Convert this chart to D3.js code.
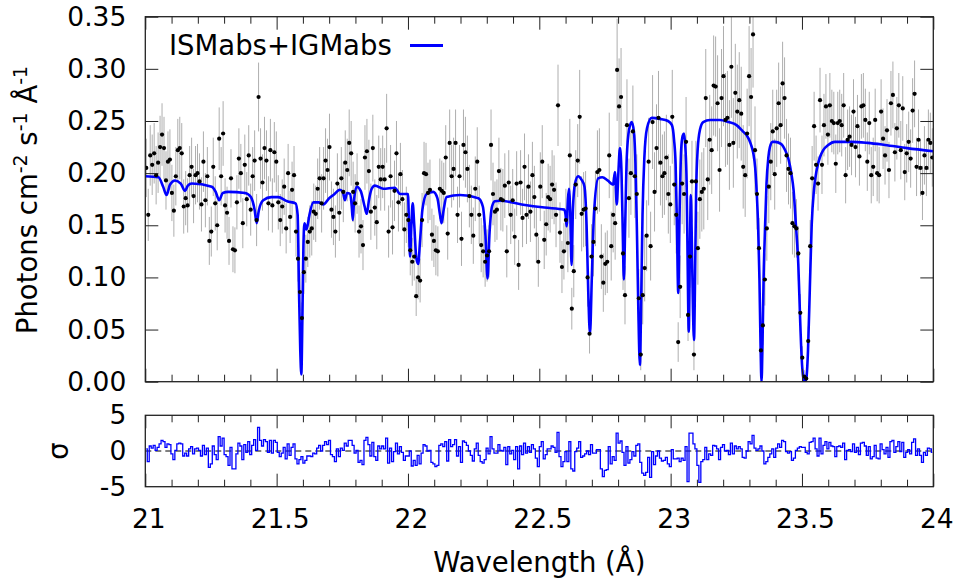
<!DOCTYPE html>
<html><head><meta charset="utf-8">
<script src="https://cdn.jsdelivr.net/npm/d3@7"></script>
<style>
html,body{margin:0;padding:0;background:#fff;}
svg{display:block;font-family:"DejaVu Sans",sans-serif;}
</style></head><body>
<svg id="chart" width="957" height="584"></svg>
<script>
// ---------------- DATA ----------------
// spectral bins: first bin centre and bin width (Angstrom)
const binStart = 21.00375;
const binWidth = 0.0075;

// observed flux, units of 1e-3 photons cm^-2 s^-1 A^-1
const fluxMilli = [
205,160,217,208,219,198,210,225,237,224,
193,211,213,181,164,197,222,224,219,168,
176,169,198,206,178,198,200,192,170,211,
174,197,135,144,206,171,150,233,197,238,
169,162,135,195,127,126,172,214,200,152,
208,175,217,165,197,212,155,273,214,191,
224,212,171,222,169,220,211,172,155,168,
187,147,200,158,184,198,144,118,86,61,
105,118,134,144,147,163,161,185,195,171,
195,212,203,225,165,158,144,190,162,195,
182,210,203,229,219,182,171,190,144,149,
131,215,221,202,163,224,167,153,206,194,
206,194,243,144,197,148,183,219,172,199,
175,146,160,155,126,115,120,82,100,97,
155,200,199,181,184,141,135,126,125,185,
183,181,215,142,229,197,204,229,160,197,
137,227,220,204,178,160,140,185,211,160,
131,125,115,121,125,227,180,163,165,202,
175,174,188,125,191,160,174,139,190,112,
191,157,206,160,187,163,198,177,141,115,
187,211,136,151,177,175,189,184,160,265,
143,110,125,155,133,217,70,106,189,212,
254,161,165,166,100,46,120,134,166,201,
203,120,95,113,115,217,130,160,152,299,
264,273,123,83,246,176,200,240,197,180,
80,26,83,109,140,211,130,249,182,224,
253,210,197,200,215,180,170,254,189,160,
38,91,190,180,230,64,120,192,26,192,
128,175,182,185,272,194,232,222,284,283,
267,203,272,293,251,253,227,302,229,277,
259,270,257,206,198,238,293,273,333,222,
180,128,30,54,98,147,187,211,240,199,
243,267,246,286,272,217,204,200,152,149,
147,123,66,23,5,3,39,130,195,245,
208,190,270,208,246,264,237,265,250,248,
209,248,250,246,265,198,232,235,227,259,
225,245,216,264,265,251,211,248,198,206,
251,200,198,259,233,217,241,203,267,275,
220,243,265,222,262,201,219,230,214,260,
276,206,232,205,181,217,205,232,229,215];

// 1-sigma flux errors, same units
const errMilli = [
28,25,29,29,29,28,29,30,30,30,
28,29,29,27,25,28,30,30,29,26,
26,26,28,28,26,28,28,27,26,29,
26,28,23,24,28,26,24,30,28,31,
26,25,23,28,22,22,26,29,28,24,
29,26,29,25,28,29,25,33,29,27,
30,29,26,30,26,29,29,26,25,26,
27,24,28,25,27,28,24,22,18,15,
21,23,24,25,26,27,27,29,30,28,
30,31,30,32,27,27,25,29,27,30,
29,31,30,32,31,29,28,29,25,26,
24,31,31,30,27,32,27,26,30,30,
30,30,33,25,30,26,29,31,28,30,
28,26,27,26,24,23,23,19,21,21,
26,30,30,29,29,25,25,24,24,29,
29,29,31,25,32,30,30,32,27,30,
26,34,34,32,30,28,27,31,33,28,
26,25,24,25,25,34,30,29,29,32,
30,30,31,25,31,28,30,27,31,24,
31,28,32,28,31,29,32,30,27,24,
33,35,28,30,32,32,33,33,31,39,
29,25,27,30,28,35,20,25,33,35,
45,36,36,36,28,19,31,33,36,40,
40,31,28,30,30,41,33,36,35,49,
46,47,35,28,44,38,40,44,40,38,
28,15,28,32,34,42,33,45,38,42,
45,41,40,40,41,38,37,45,39,37,
19,30,39,38,43,25,30,39,15,39,
35,38,38,39,47,39,43,42,48,48,
46,40,47,48,45,45,43,49,43,47,
45,46,45,40,40,43,48,47,51,42,
34,29,14,19,25,31,35,37,40,34,
37,39,37,40,39,35,34,34,30,30,
28,26,18,11,6,5,14,25,31,33,
28,26,31,28,30,31,29,31,30,30,
28,30,30,30,31,27,29,29,29,31,
29,30,28,31,31,30,28,30,27,28,
30,27,27,31,29,28,30,27,31,32,
28,30,31,28,31,27,28,29,28,31,
32,28,29,27,26,28,27,29,29,28];

// residuals (data - model)/error, in sigma
const residSigma = [
0.3,-1.5,0.7,0.4,0.8,0.1,0.5,1.0,1.5,1.3,
0.5,1.0,0.9,-0.4,-1.2,0.1,1.0,1.1,1.0,-0.7,
-0.3,-0.7,0.3,0.6,-0.4,0.3,0.4,0.1,-0.7,0.8,
-0.5,0.4,-2.3,-1.8,0.7,-0.5,-1.2,2.0,0.7,1.8,
-0.5,-0.8,-2.0,0.5,-2.5,-2.5,-0.4,1.1,0.7,-1.2,
0.9,-0.2,1.3,-0.5,0.8,1.6,0.1,3.3,1.5,0.7,
1.6,1.3,-0.2,1.5,-0.3,1.5,1.2,-0.2,-0.8,-0.3,
0.5,-1.1,1.0,-0.6,0.5,1.0,-1.1,-1.8,-1.2,-0.8,
-1.7,-1.3,-0.7,-0.7,-0.8,-0.3,-0.4,0.4,0.8,0.0,
0.8,1.3,0.9,1.5,-0.5,-0.8,-1.5,0.3,-0.8,0.4,
0.1,1.1,0.7,1.5,1.5,0.8,-0.3,0.1,-1.6,-1.3,
-1.9,1.5,1.9,0.9,-0.7,1.2,-0.8,-1.3,0.7,0.3,
0.7,0.3,1.8,-1.7,0.4,-1.5,-0.1,1.1,-0.4,0.6,
-0.2,-1.3,-0.7,-0.7,0.0,-2.1,-1.3,-2.0,-0.6,-1.8,
-0.3,0.9,0.7,0.0,0.1,-1.6,-1.8,-2.2,-2.0,0.8,
1.0,0.6,1.3,-1.4,1.6,0.6,0.9,1.6,-0.7,0.6,
-1.6,1.4,1.2,0.8,0.0,-0.6,-1.4,0.3,1.1,-0.6,
-1.5,-1.7,-1.2,0.4,-0.4,2.0,0.3,-0.3,-0.3,0.9,
0.1,0.0,0.5,-1.9,0.6,-0.4,0.1,-1.2,0.6,-2.5,
0.7,-0.5,1.1,-0.3,0.6,-0.2,0.9,0.3,-1.0,-2.2,
0.6,1.3,-1.1,-0.5,0.3,0.3,0.7,0.5,-0.2,2.6,
-0.8,-2.2,-1.5,-0.1,-1.5,1.3,-2.5,-2.8,-0.1,0.4,
1.3,-0.9,-0.7,-0.4,0.0,-0.5,0.9,-0.3,-0.3,0.2,
0.2,-2.5,-3.6,-2.7,-2.6,0.6,-1.8,-0.8,-1.3,2.5,
1.1,1.4,-0.2,-2.0,0.6,-1.7,-1.2,-0.1,-0.7,0.8,
1.0,-1.6,-3.1,-3.4,-3.0,-0.9,-3.7,-0.1,-1.9,-0.7,
0.0,-1.0,-1.4,-1.3,-0.9,-1.8,-2.2,0.2,-1.1,-1.1,
-1.0,-1.5,-1.0,-1.3,0.6,-4.3,2.5,2.5,1.0,0.3,
-2.0,-4.4,-1.5,-1.2,0.5,-1.2,-0.4,-0.6,0.8,0.7,
0.3,-1.2,0.5,0.9,0.0,0.1,-0.5,1.1,-0.4,0.7,
0.3,0.6,0.3,-0.9,-1.0,0.0,1.3,1.0,2.2,0.4,
0.1,0.3,0.7,0.0,-1.8,-1.5,-0.9,-0.4,0.3,-0.9,
0.4,1.0,0.5,1.5,1.3,-0.1,-0.3,-0.1,-1.3,-1.0,
0.1,0.4,0.6,0.5,0.5,-0.2,-0.4,1.2,1.3,1.8,
0.3,-0.7,1.8,-0.4,0.8,1.3,0.3,1.2,0.7,0.6,
-0.8,0.6,0.7,0.5,1.1,-1.2,0.1,0.2,-0.1,1.0,
-0.2,0.5,-0.5,1.1,1.2,0.7,-0.6,0.6,-1.1,-0.8,
0.8,-1.0,-1.1,1.0,0.2,-0.4,0.5,-0.9,1.3,1.5,
-0.2,0.6,1.3,-0.1,1.2,-0.9,-0.2,0.2,-0.4,1.2,
1.7,-0.6,0.3,-0.6,-1.6,-0.2,-0.6,0.4,0.3,-0.2];

// ISMabs+IGMabs model curve
const modelWave = [
21.000,21.050,21.068,21.081,21.094,21.113,21.135,21.151,21.162,21.177,
21.253,21.268,21.281,21.295,21.316,21.380,21.402,21.416,21.424,21.432,
21.449,21.480,21.506,21.540,21.572,21.580,21.585,21.590,21.594,21.598,
21.602,21.606,21.613,21.618,21.625,21.640,21.660,21.678,21.700,21.716,
21.741,21.752,21.760,21.768,21.780,21.786,21.790,21.795,21.805,21.820,
21.835,21.843,21.852,21.862,21.874,21.906,21.950,21.970,22.000,22.004,
22.008,22.013,22.018,22.024,22.032,22.039,22.046,22.055,22.071,22.096,
22.112,22.122,22.128,22.136,22.147,22.198,22.268,22.285,22.295,22.303,
22.310,22.320,22.331,22.350,22.433,22.520,22.595,22.600,22.604,22.609,
22.613,22.618,22.623,22.628,22.636,22.648,22.660,22.672,22.680,22.686,
22.693,22.700,22.708,22.724,22.740,22.760,22.781,22.788,22.795,22.801,
22.807,22.813,22.818,22.822,22.827,22.833,22.842,22.852,22.860,22.866,
22.872,22.877,22.883,22.888,22.893,22.900,22.910,22.928,22.960,22.990,
23.005,23.013,23.019,23.024,23.029,23.034,23.040,23.046,23.051,23.056,
23.061,23.065,23.069,23.073,23.077,23.081,23.085,23.089,23.093,23.097,
23.103,23.112,23.124,23.150,23.188,23.220,23.251,23.275,23.289,23.305,
23.314,23.322,23.328,23.333,23.338,23.342,23.346,23.350,23.354,23.359,
23.365,23.372,23.378,23.388,23.397,23.420,23.436,23.448,23.460,23.468,
23.477,23.486,23.493,23.499,23.505,23.511,23.517,23.523,23.530,23.537,
23.546,23.556,23.568,23.581,23.600,23.625,23.689,23.750,23.816,23.900,
24.000];
const modelFlux = [
0.197,0.196,0.187,0.179,0.189,0.193,0.190,0.183,0.188,0.190,
0.187,0.182,0.174,0.181,0.182,0.181,0.177,0.165,0.152,0.164,
0.174,0.177,0.177,0.173,0.171,0.160,0.090,0.030,0.007,0.060,
0.130,0.152,0.146,0.150,0.160,0.172,0.172,0.170,0.176,0.179,
0.184,0.182,0.174,0.181,0.180,0.168,0.155,0.175,0.187,0.183,
0.168,0.161,0.175,0.185,0.188,0.185,0.186,0.180,0.180,0.150,
0.120,0.150,0.171,0.150,0.118,0.113,0.135,0.165,0.180,0.182,
0.176,0.160,0.152,0.165,0.177,0.179,0.176,0.168,0.140,0.099,
0.140,0.168,0.173,0.1735,0.170,0.167,0.165,0.160,0.149,0.175,
0.185,0.160,0.112,0.165,0.190,0.197,0.194,0.187,0.150,0.090,
0.046,0.100,0.160,0.195,0.196,0.193,0.189,0.201,0.170,0.200,
0.224,0.200,0.140,0.098,0.150,0.215,0.242,0.249,0.240,0.210,
0.140,0.070,0.016,0.080,0.160,0.215,0.243,0.253,0.252,0.250,
0.246,0.232,0.208,0.150,0.085,0.160,0.222,0.236,0.238,0.225,
0.190,0.110,0.048,0.120,0.179,0.130,0.070,0.040,0.100,0.180,
0.223,0.242,0.249,0.251,0.251,0.249,0.246,0.240,0.2365,0.228,
0.220,0.205,0.180,0.150,0.100,0.040,0.000,0.040,0.100,0.144,
0.190,0.215,0.225,0.230,0.230,0.228,0.222,0.214,0.199,0.184,
0.150,0.113,0.060,0.022,0.004,0.000,0.004,0.030,0.090,0.150,
0.185,0.203,0.215,0.222,0.227,0.230,0.230,0.229,0.227,0.224,
0.221];

const xTicksMajor = [21, 21.5, 22, 22.5, 23, 23.5, 24];
const xTicksMinor = [21.1,21.2,21.3,21.4,21.6,21.7,21.8,21.9,22.1,22.2,22.3,22.4,
                     22.6,22.7,22.8,22.9,23.1,23.2,23.3,23.4,23.6,23.7,23.8,23.9];
const yTicksTop = [0, 0.05, 0.10, 0.15, 0.20, 0.25, 0.30, 0.35];
const yTicksRes = [-5, 0, 5];
const legendLabel = "ISMabs+IGMabs";
const xTitle = "Wavelength (Å)";
const resTitle = "σ";

// ---------------- DRAWING ----------------
const svg = d3.select("#chart");
const L = 145.3, R = 933.3;
const topT = 16.7, topB = 381.7;
const resT = 415.3, resB = 486.7;
const FS = 26.5;     // tick labels
const FT = 27.5;     // titles & legend
const blue = "#0000ff";
const frameCol = "#222";

const x = d3.scaleLinear().domain([21, 24]).range([L, R]);
const y = d3.scaleLinear().domain([0, 0.35]).range([topB, topT]);
const yr = d3.scaleLinear().domain([-5, 5]).range([resB, resT]);

const bins = fluxMilli.map((f, i) => ({
  w: binStart + i * binWidth,
  f: f / 1000,
  e: errMilli[i] / 1000,
  r: residSigma[i]
}));
const model = modelWave.map((w, i) => ({w, f: modelFlux[i]}));

const defs = svg.append("defs");
defs.append("clipPath").attr("id", "clipTop").append("rect")
  .attr("x", L).attr("y", topT).attr("width", R - L).attr("height", topB - topT);
defs.append("clipPath").attr("id", "clipRes").append("rect")
  .attr("x", L).attr("y", resT).attr("width", R - L).attr("height", resB - resT);

// --- top panel ---
const gTop = svg.append("g").attr("clip-path", "url(#clipTop)");
gTop.append("g").selectAll("line").data(bins).join("line")
  .attr("x1", d => x(d.w)).attr("x2", d => x(d.w))
  .attr("y1", d => y(d.f - d.e)).attr("y2", d => y(d.f + d.e))
  .attr("stroke", "#aeaeae").attr("stroke-width", 1);

gTop.append("path").datum(model)
  .attr("fill", "none").attr("stroke", blue).attr("stroke-width", 2.6)
  .attr("stroke-linejoin", "round")
  .attr("d", d3.line().x(d => x(d.w)).y(d => y(d.f)).curve(d3.curveMonotoneX));

gTop.append("g").selectAll("circle").data(bins).join("circle")
  .attr("cx", d => x(d.w)).attr("cy", d => y(d.f)).attr("r", 2.1)
  .attr("fill", "#000");

// axes helpers
function styleAxis(g) {
  g.select(".domain").remove();
  g.selectAll(".tick line").attr("stroke", frameCol).attr("stroke-width", 1);
  g.selectAll(".tick text").attr("font-family", "DejaVu Sans").attr("font-size", FS).attr("fill", "#000");
}
function xTicks(yPos, orient, len, vals) {
  const ax = (orient === "top" ? d3.axisTop(x) : d3.axisBottom(x))
    .tickValues(vals).tickSize(-len).tickFormat("");
  svg.append("g").attr("transform", `translate(0,${yPos})`).call(ax).call(styleAxis);
}
// top panel x ticks (top & bottom edges)
xTicks(topT, "top", 13, xTicksMajor); xTicks(topT, "top", 7, xTicksMinor);
xTicks(topB, "bottom", 13, xTicksMajor); xTicks(topB, "bottom", 7, xTicksMinor);
// residual panel x ticks
xTicks(resT, "top", 13, xTicksMajor); xTicks(resT, "top", 7, xTicksMinor);
svg.append("g").attr("transform", `translate(0,${resB})`)
  .call(d3.axisBottom(x).tickValues(xTicksMajor).tickSize(-13).tickPadding(22.5)
    .tickFormat(d => String(d)))
  .call(styleAxis)
  .call(g => g.selectAll(".tick text").attr("dx", 3));
xTicks(resB, "bottom", 7, xTicksMinor);

// top panel y axes
svg.append("g").attr("transform", `translate(${L},0)`)
  .call(d3.axisLeft(y).tickValues(yTicksTop).tickSize(-13).tickPadding(19)
    .tickFormat(d3.format(".2f")))
  .call(styleAxis);
svg.append("g").attr("transform", `translate(${R},0)`)
  .call(d3.axisRight(y).tickValues(yTicksTop).tickSize(-13).tickFormat(""))
  .call(styleAxis);

// residual y axis labels
svg.append("g").attr("transform", `translate(${L},0)`)
  .call(d3.axisLeft(yr).tickValues(yTicksRes).tickSize(0).tickPadding(19)
    .tickFormat(d => String(d)))
  .call(styleAxis);

// --- residual panel ---
const gRes = svg.append("g").attr("clip-path", "url(#clipRes)");
gRes.append("line").attr("x1", L).attr("x2", R).attr("y1", yr(0)).attr("y2", yr(0))
  .attr("stroke", "#000").attr("stroke-width", 1).attr("stroke-dasharray", "6,4");
gRes.append("path").datum(bins)
  .attr("fill", "none").attr("stroke", blue).attr("stroke-width", 1.3)
  .attr("d", d3.line().x(d => x(d.w)).y(d => yr(d.r)).curve(d3.curveStep));

// frames
svg.append("rect").attr("x", L).attr("y", topT).attr("width", R - L).attr("height", topB - topT)
  .attr("fill", "none").attr("stroke", frameCol).attr("stroke-width", 1.3);
svg.append("rect").attr("x", L).attr("y", resT).attr("width", R - L).attr("height", resB - resT)
  .attr("fill", "none").attr("stroke", frameCol).attr("stroke-width", 1.3);

// legend
svg.append("text").attr("x", 169).attr("y", 54.5).attr("font-size", FT).attr("fill", "#000")
  .text(legendLabel);
svg.append("line").attr("x1", 410).attr("x2", 443).attr("y1", 45.5).attr("y2", 45.5)
  .attr("stroke", blue).attr("stroke-width", 3);

// axis titles
svg.append("text").attr("x", (L + R) / 2).attr("y", 572).attr("text-anchor", "middle")
  .attr("font-size", FT).attr("fill", "#000").text(xTitle);

const yt = svg.append("text").attr("transform", "translate(37,200) rotate(-90)")
  .attr("text-anchor", "middle").attr("font-size", FT).attr("fill", "#000");
yt.append("tspan").text("Photons cm");
yt.append("tspan").attr("dy", -10).attr("font-size", 19).text("-2");
yt.append("tspan").attr("dy", 10).text(" s");
yt.append("tspan").attr("dy", -10).attr("font-size", 19).text("-1");
yt.append("tspan").attr("dy", 10).text(" Å");
yt.append("tspan").attr("dy", -10).attr("font-size", 19).text("-1");

svg.append("text").attr("transform", `translate(68,${yr(0)}) rotate(-90)`)
  .attr("text-anchor", "middle").attr("font-size", FT).attr("fill", "#000").text(resTitle);
</script>
</body></html>
